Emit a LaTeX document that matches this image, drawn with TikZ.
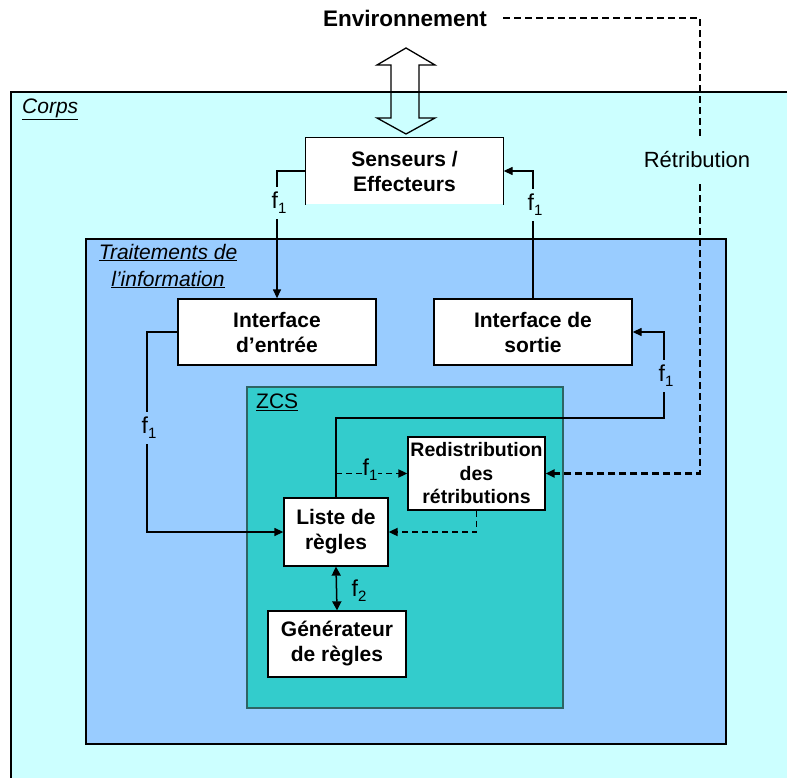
\documentclass[tikz,border=0pt]{standalone}
\usepackage{fontspec}
\setmainfont{Liberation Sans}
\usetikzlibrary{arrows.meta}
\definecolor{corpsc}{HTML}{CCFFFF}
\definecolor{traitc}{HTML}{99CCFF}
\definecolor{zcsc}{HTML}{33CCCC}
\definecolor{zcsborder}{HTML}{2E6464}
\newcommand{\fsub}[2]{#1\raisebox{-5pt}{\fontsize{15}{15}\selectfont #2}}
\tikzset{
  boxnode/.style={draw=black, fill=white, line width=1.3pt, inner sep=0pt, align=center,
    font=\bfseries\fontsize{21}{25}\selectfont},
  conn/.style={line width=1.3pt, -{Triangle[length=9pt,width=8pt]}},
  dconn/.style={conn, line width=1.8pt, dash pattern=on 6pt off 4pt},
  flab/.style={inner xsep=1pt, inner ysep=5pt, font=\fontsize{23}{23}\selectfont},
  titlelab/.style={font=\itshape\fontsize{21}{27}\selectfont, align=center, inner sep=0pt},
}
\begin{document}
\begin{tikzpicture}[x=1pt, y=-1pt]
\useasboundingbox (0,0) rectangle (787,778);
\fill[white] (0,0) rectangle (787,778);
% Corps
\fill[corpsc] (11,92) rectangle (787,778);
\draw[line width=1.3pt] (11,778) |- (787,92);
\node[titlelab, anchor=west] (corps) at (22,109) {\underline{Corps}};
% Traitements
\draw[line width=1.7pt, fill=traitc] (86,239) rectangle (726,744);
\node[titlelab] (trait) at (168,266) {\underline{Traitements de}\\\underline{l’information}};
% ZCS
\draw[line width=1.5pt, draw=zcsborder, fill=zcsc] (247,387) rectangle (563,708);
\node[titlelab, font=\fontsize{21}{21}\selectfont, anchor=west] (zcs) at (256,402) {\underline{ZCS}};

% Environnement
\node[font=\bfseries\fontsize{22.5}{22.5}\selectfont, inner xsep=16pt] (env) at (405,18) {Environnement};
% double arrow
\draw[line width=1.3pt, line join=miter] (406,48) -- (435,65) -- (419,65) -- (419,118) -- (435,118)
  -- (406,134) -- (377,118) -- (391,118) -- (391,65) -- (377,65) -- cycle;

% boxes
\node[boxnode, draw=none, minimum width=197pt, minimum height=66pt] (sens) at (404.5,171) {Senseurs /\\Effecteurs};
\draw[line width=1.3pt] (sens.south west) |- (sens.north) -| (sens.south east);
\node[boxnode, minimum width=198pt, minimum height=66pt] (ient) at (277,332) {Interface\\d’entrée};
\node[boxnode, minimum width=198pt, minimum height=66pt] (isort) at (533,332) {Interface de\\sortie};
\node[boxnode, minimum width=104pt, minimum height=68pt] (liste) at (336,532) {Liste de\\règles};
\node[boxnode, minimum width=137pt, minimum height=73pt, font=\bfseries\fontsize{19.5}{23.5}\selectfont] (redis) at (476.5,473.5) {Redistribution\\des\\rétributions};
\node[boxnode, minimum width=138pt, minimum height=66pt] (gen) at (337,644) {Générateur\\de règles};

% coordinates
\coordinate (c1) at (664,418);
\coordinate (c2) at (147,432);
\coordinate (c3) at (liste.north |- redis.west);
\coordinate (c4) at (700,473.5);

% solid connectors
\draw[conn] (sens.west) -| (ient.north);
\node[flab, fill=corpsc] (fa) at (279,203) {\fsub{f}{1}};
\draw[conn] (isort.north) |- (sens.east);
\node[flab, fill=corpsc] (fb) at (535,205) {\fsub{f}{1}};
\draw[conn] (liste.north) |- (c1) |- (isort.east);
\node[flab, fill=traitc] (fc) at (666,376) {\fsub{f}{1}};
\draw[conn] (ient.west) -| (c2) |- (liste.west);
\node[flab, fill=traitc] (fd) at (149,428) {\fsub{f}{1}};
\draw[line width=1.5pt, {Triangle[length=9pt,width=9pt]}-{Triangle[length=9pt,width=9pt]}] (liste.south) -- (gen.north);
\node[flab, inner ysep=0pt] (fe) at (359,591) {\fsub{f}{2}};

% dashed connectors
\draw[dconn] (c3) -- (redis.west);
\node[flab, fill=zcsc, inner ysep=0pt] (ff) at (370,470) {\fsub{f}{1}};
\draw[dconn, line width=2.4pt, dash pattern=on 7pt off 4pt] (env.east) -| (c4) -- (redis.east);
\node[inner xsep=2pt, inner ysep=12pt, fill=corpsc, font=\fontsize{22}{22}\selectfont] (retr) at (697,160) {Rétribution};
\draw[dconn] (redis.south) |- (liste.east);
\end{tikzpicture}
\end{document}
